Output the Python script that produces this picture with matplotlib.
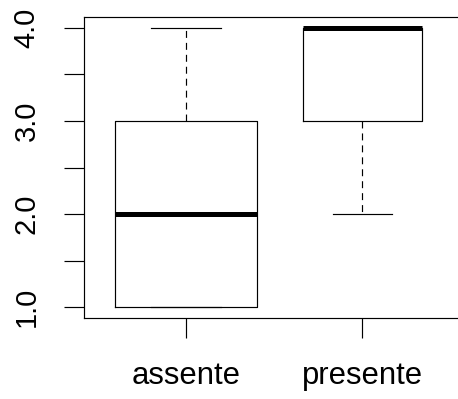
import numpy as np
import matplotlib
matplotlib.use("Agg")
import matplotlib.pyplot as plt

# five-number summaries (R style boxplot, varwidth)
groups = ["assente", "presente"]
whislo = [1.0, 2.0]
q1 = [1.0, 3.0]
med = [2.0, 4.0]
q3 = [3.0, 4.0]
whishi = [4.0, 4.0]
counts = [10, 7]

yticks = [1.0, 1.5, 2.0, 2.5, 3.0, 3.5, 4.0]
ylabels = ["1.0", "", "2.0", "", "3.0", "", "4.0"]

plt.rcParams["font.family"] = ["Liberation Sans", "DejaVu Sans"]
plt.rcParams["lines.scale_dashes"] = False

fig = plt.figure(figsize=(4.58, 3.99), dpi=100)
ax = fig.add_axes([0.1825, 0.2025, 0.8325, 0.7554])

stats = []
for i, g in enumerate(groups):
    stats.append(dict(label=g, whislo=whislo[i], q1=q1[i], med=med[i],
                      q3=q3[i], whishi=whishi[i], fliers=[]))

n = np.array(counts, dtype=float)
widths = 0.8 * np.sqrt(n / n.max())

lw = 0.85
ax.bxp(stats, positions=[1, 2], widths=widths, showfliers=False,
       boxprops=dict(color="black", linewidth=lw),
       whiskerprops=dict(color="black", linewidth=lw, linestyle=(0, (5.0, 3.6))),
       capprops=dict(color="black", linewidth=lw),
       medianprops=dict(color="black", linewidth=3.6, solid_capstyle="butt"))

ax.set_xlim(0.42, 2.58)
ax.set_ylim(0.88, 4.12)

ax.set_yticks(yticks)
ax.set_yticklabels(ylabels, rotation=90, va="center")
ax.set_xticks([1, 2])
ax.set_xticklabels(groups)

ax.tick_params(axis="both", direction="out", length=14.4, width=lw,
               color="black")
ax.tick_params(axis="y", pad=16.5, labelsize=21)
ax.tick_params(axis="x", pad=16.5, labelsize=22.3)

for s in ax.spines.values():
    s.set_linewidth(lw)
    s.set_color("black")

fig.savefig("out.png", dpi=100)
